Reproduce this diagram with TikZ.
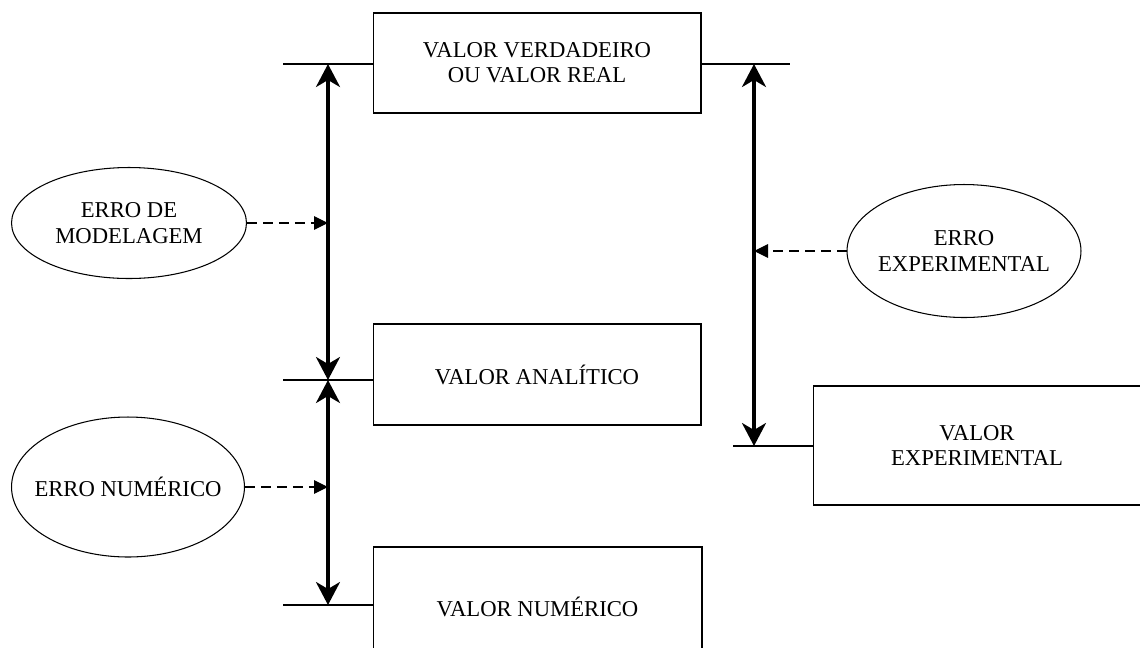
\documentclass[tikz,border=0pt]{standalone}
\usepackage{fontspec}
\setmainfont{Liberation Serif}
\usetikzlibrary{arrows.meta,shapes.geometric}
\begin{document}
\begin{tikzpicture}[x=0.02cm,y=-0.02cm,
  every node/.style={font=\fontsize{12.9}{14.4}\selectfont},
  box/.style={draw,line width=0.6pt,align=center,inner sep=0pt},
  err/.style={draw,ellipse,line width=0.6pt,align=center,inner ysep=0pt,inner xsep=-0.25cm},
  lvl/.style={line width=0.6pt},
  dbl/.style={line width=1.9pt,{Stealth[length=0.46cm,width=0.48cm,inset=0.14cm]}-{Stealth[length=0.46cm,width=0.48cm,inset=0.14cm]}},
  dsh/.style={line width=0.6pt,dash pattern=on 0.2cm off 0.12cm,-{Triangle[length=0.28cm,width=0.27cm]}}]
\clip (0,0) rectangle (1140,647);
% boxes
\node[box,minimum width=6.56cm,minimum height=2.0cm] (vr) at (537,63) {VALOR VERDADEIRO\\OU VALOR REAL};
\node[box,minimum width=6.56cm,minimum height=2.02cm] (va) at (537,374.5) {VALOR ANAL\'ITICO};
\node[box,minimum width=6.58cm,minimum height=2.4cm] (vn) at (537.5,607) {VALOR NUM\'ERICO};
\node[box,minimum width=6.56cm,minimum height=2.38cm] (ve) at (977,445.5) {VALOR\\EXPERIMENTAL};
% ellipses
\node[err,minimum width=4.7cm,minimum height=2.22cm] (em) at (129,223) {ERRO DE\\MODELAGEM};
\node[err,minimum width=4.66cm,minimum height=2.8cm] (en) at (128,487) {ERRO NUM\'ERICO};
\node[err,minimum width=4.68cm,minimum height=2.66cm] (ex) at (964,251) {ERRO\\EXPERIMENTAL};
% level lines
\coordinate (l1) at (283,64);
\coordinate (r1) at (790,64);
\coordinate (l2) at (283,380);
\coordinate (l3) at (283,605);
\coordinate (l4) at (733,446);
\draw[lvl] (l1) -- (l1 -| vr.west);
\draw[lvl] (vr.east |- r1) -- (r1);
\draw[lvl] (l2) -- (l2 -| va.west);
\draw[lvl] (l3) -- (l3 -| vn.west);
\draw[lvl] (l4) -- (l4 -| ve.west);
% arrow ends
\coordinate (a1) at (328,64);
\coordinate (a2) at (328,380);
\coordinate (a3) at (328,605);
\coordinate (b1) at (754,64);
\coordinate (b2) at (754,446);
\draw[dbl] (a1) -- (a2);
\draw[dbl] (a2) -- (a3);
\draw[dbl] (b1) -- (b2);
% dashed arrows
\draw[dsh] (em.east) -- (em.east -| a1);
\draw[dsh] (en.east) -- (en.east -| a1);
\draw[dsh] (ex.west) -- (ex.west -| b1);
\end{tikzpicture}
\end{document}
